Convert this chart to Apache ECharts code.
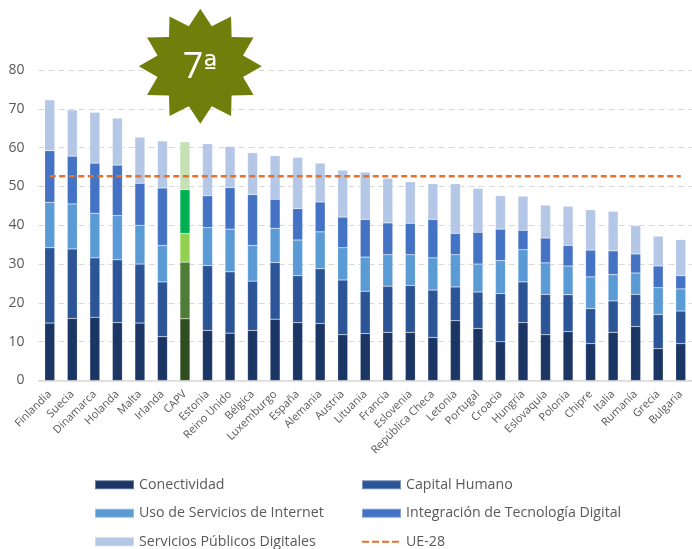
<!DOCTYPE html>
<html>
<head>
<meta charset="utf-8">
<title>DESI</title>
<style>
	html, body { margin: 0; padding: 0; background: #fff; }
	#main { width: 692px; height: 549px; }
</style>
<script src="https://cdn.jsdelivr.net/npm/echarts@6/dist/echarts.min.js"></script>
</head>
<body>
<div id="main"></div>
<script>
var paises = ['Finlandia', 'Suecia', 'Dinamarca', 'Holanda', 'Malta', 'Irlanda', 'CAPV', 'Estonia', 'Reino Unido', 'Bélgica', 'Luxemburgo', 'España', 'Alemania', 'Austria', 'Lituania', 'Francia', 'Eslovenia', 'República Checa', 'Letonia', 'Portugal', 'Croacia', 'Hungría', 'Eslovaquia', 'Polonia', 'Chipre', 'Italia', 'Rumanía', 'Grecia', 'Bulgaria'];
var conectividad = [14.8, 16, 16.3, 14.9, 14.8, 11.3, 15.9, 12.9, 12.2, 12.9, 15.8, 14.9, 14.7, 11.8, 12.1, 12.4, 12.4, 11.1, 15.4, 13.4, 10, 14.9, 11.8, 12.6, 9.5, 12.4, 13.9, 8.2, 9.5];
var capitalHumano = [19.4, 17.9, 15.3, 16.2, 15.2, 14.1, 14.6, 16.7, 15.8, 12.7, 14.6, 12.1, 14.1, 14.1, 10.9, 11.9, 12.1, 12.2, 8.7, 9.4, 12.4, 10.5, 10.4, 9.5, 9, 8.1, 8.3, 8.8, 8.4];
var usoInternet = [11.7, 11.6, 11.5, 11.4, 10, 9.4, 7.4, 9.8, 11, 9.2, 8.8, 9.2, 9.5, 8.3, 8.8, 8.1, 7.9, 8.3, 8.3, 7.2, 8.5, 8.3, 8.1, 7.4, 8.2, 6.8, 5.5, 6.9, 5.7];
var integracion = [13.3, 12.3, 12.9, 13, 10.8, 14.8, 11.3, 8.2, 10.7, 13.1, 7.5, 8.1, 7.7, 7.9, 9.7, 8.2, 8.1, 9.9, 5.5, 8.2, 8.1, 5, 6.4, 5.3, 6.9, 6.1, 4.9, 5.6, 3.4];
var serviciosPublicos = [13.1, 11.9, 13.1, 12.1, 11.9, 12.1, 12.3, 13.4, 10.6, 10.8, 11.2, 13.2, 10, 12.1, 12.2, 11.5, 10.7, 9.2, 12.8, 11.3, 8.6, 8.8, 8.5, 10.1, 10.4, 10.2, 7.3, 7.7, 9.3];
var ue28 = [52.6, 52.6, 52.6, 52.6, 52.6, 52.6, 52.6, 52.6, 52.6, 52.6, 52.6, 52.6, 52.6, 52.6, 52.6, 52.6, 52.6, 52.6, 52.6, 52.6, 52.6, 52.6, 52.6, 52.6, 52.6, 52.6, 52.6, 52.6, 52.6];
var yTicks = [0, 10, 20, 30, 40, 50, 60, 70, 80];

var textColor = '#595959';
var fontName = '"Open Sans", sans-serif';

//barra destacada
var destacado = 'CAPV';

var barSeries = function(name, values, color, colorDestacado) {
	return {
		name: name,
		type: 'bar',
		stack: 'total',
		barWidth: 10,
		itemStyle: {
			color: color,
			borderColor: 'rgba(255,255,255,0.35)',
			borderWidth: 0.5
		},
		data: values.map(function(v, i) {
			if(paises[i] == destacado) {
				return {
					value: v,
					itemStyle: {
						color: colorDestacado
					}
				};
			}
			return v;
		})
	};
};

//estrella de 12 puntas
var starPoints = function(cx, cy, rx, ry, innerRatio) {
	var pts = [];
	for(var i = 0; i < 24; i++) {
		var a = Math.PI * i / 12 - Math.PI / 2;
		var k = i % 2 == 0 ? 1 : innerRatio;
		pts.push([cx + rx * k * Math.cos(a), cy + ry * k * Math.sin(a)]);
	}
	return pts;
};

var legendBase = function(left, items) {
	return {
		orient: 'vertical',
		left: left,
		top: 477.8,
		padding: 0,
		itemWidth: 39,
		itemHeight: 9,
		itemGap: 14.5,
		selectedMode: false,
		textStyle: {
			color: textColor,
			fontFamily: fontName,
			fontSize: 14.2,
			lineHeight: 14
		},
		data: items
	};
};

var chartOption = {
	animation: false,
	backgroundColor: '#fff',
	grid: {
		left: 38.5,
		right: -3,
		top: 70,
		bottom: 168.5
	},
	legend: [
		legendBase(94, [
			{ name: 'Conectividad', icon: 'rect' },
			{ name: 'Uso de Servicios de Internet', icon: 'rect' },
			{ name: 'Servicios Públicos Digitales', icon: 'rect' }
		]),
		legendBase(361, [
			{ name: 'Capital Humano', icon: 'rect' },
			{ name: 'Integración de Tecnología Digital', icon: 'rect' },
			{ name: 'UE-28', itemStyle: { opacity: 0 }, lineStyle: { width: 2, type: [7, 3] } }
		])
	],
	xAxis: {
		type: 'category',
		data: paises,
		axisTick: {
			show: false
		},
		axisLine: {
			lineStyle: {
				color: '#D9D9D9',
				width: 1.5
			}
		},
		axisLabel: {
			interval: 0,
			rotate: 45,
			margin: 12,
			color: textColor,
			fontFamily: fontName,
			fontSize: 11
		}
	},
	yAxis: {
		type: 'value',
		min: yTicks[0],
		max: yTicks[yTicks.length - 1],
		interval: 10,
		axisLine: {
			show: false
		},
		axisTick: {
			show: false
		},
		axisLabel: {
			margin: 14,
			color: textColor,
			fontFamily: fontName,
			fontSize: 14
		},
		splitLine: {
			lineStyle: {
				color: '#D9D9D9',
				type: [6, 4],
				width: 1
			}
		}
	},
	series: [
		barSeries('Conectividad', conectividad, '#1B3564', '#2F4D1F'),
		barSeries('Capital Humano', capitalHumano, '#2C5597', '#4F7C36'),
		barSeries('Uso de Servicios de Internet', usoInternet, '#5B9BD5', '#92D050'),
		barSeries('Integración de Tecnología Digital', integracion, '#4472C4', '#00B050'),
		barSeries('Servicios Públicos Digitales', serviciosPublicos, '#B4C7E7', '#C5E0B3'),
		{
			name: 'UE-28',
			type: 'line',
			symbol: 'none',
			z: 5,
			itemStyle: {
				color: '#E2722C'
			},
			lineStyle: {
				color: '#E2722C',
				width: 2.5,
				type: [6, 3.5]
			},
			data: ue28
		}
	],
	graphic: [{
		type: 'polygon',
		z: 100,
		shape: {
			points: starPoints(200.3, 66.3, 61.5, 57.5, 0.72)
		},
		style: {
			fill: '#6F7F0C'
		}
	}, {
		type: 'text',
		z: 101,
		x: 200,
		y: 68,
		style: {
			text: '{a|7}{b|ª}',
			fill: '#fff',
			textAlign: 'center',
			textVerticalAlign: 'middle',
			rich: {
				a: {
					fill: '#fff',
					fontFamily: fontName,
					fontSize: 36
				},
				b: {
					fill: '#fff',
					fontFamily: '"DejaVu Sans"',
					fontSize: 30
				}
			}
		}
	}]
};

var chart = echarts.init(document.getElementById('main'));
chart.setOption(chartOption);
</script>
</body>
</html>
